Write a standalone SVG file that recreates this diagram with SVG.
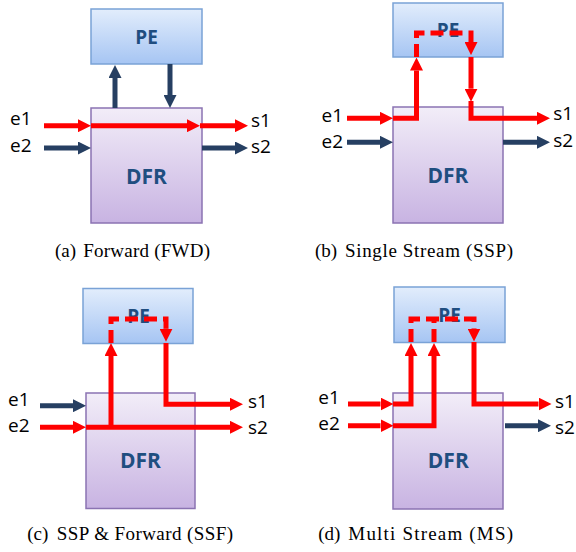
<svg xmlns="http://www.w3.org/2000/svg" width="576" height="552" viewBox="0 0 576 552">
<defs>
<linearGradient id="gPE" x1="0" y1="0" x2="0" y2="1"><stop offset="0" stop-color="#e2edfc"/><stop offset="1" stop-color="#a6c5f3"/></linearGradient>
<linearGradient id="gDFR" x1="0" y1="0" x2="0" y2="1"><stop offset="0" stop-color="#f2edf8"/><stop offset="1" stop-color="#c8b3e2"/></linearGradient>
<marker id="hR" markerUnits="userSpaceOnUse" markerWidth="13" markerHeight="13" viewBox="0 0 13 13" refX="0" refY="6.5" orient="auto"><path d="M0,0 L13,6.5 L0,13 Z" fill="#ff0000"/></marker>
<marker id="hD" markerUnits="userSpaceOnUse" markerWidth="13" markerHeight="13" viewBox="0 0 13 13" refX="0" refY="6.5" orient="auto"><path d="M0,0 L13,6.5 L0,13 Z" fill="#263f62"/></marker>
<style>
.pe{fill:url(#gPE);stroke:#7aa2d6;stroke-width:1.5}
.dfr{fill:url(#gDFR);stroke:#8b73b2;stroke-width:1.5}
.bt{font-family:"Open Sans","Liberation Sans",sans-serif;font-weight:bold;fill:#1f4e80;text-anchor:middle}
.lb{font-family:"Open Sans","Liberation Sans",sans-serif;font-size:19px;fill:#000}
.cap{font-family:"Liberation Serif","Times New Roman",serif;font-size:19px;fill:#000}
.r{fill:none;stroke:#ff0000;stroke-width:5;stroke-linejoin:miter;marker-end:url(#hR)}
.rd{fill:none;stroke:#ff0000;stroke-width:5;stroke-dasharray:13 6;stroke-linejoin:miter}
.d{fill:none;stroke:#263f62;stroke-width:5;marker-end:url(#hD)}
</style>
</defs>

<!-- Panel (a) -->
<g id="a-PE"><rect class="pe" x="91" y="9" width="111" height="55"/><text class="bt" x="146.5" y="44" font-size="19">PE</text></g>
<g id="a-DFR"><rect class="dfr" x="91" y="108" width="111" height="115"/><text class="bt" x="146.5" y="184" font-size="21">DFR</text></g>
<g id="a-labels">
<text class="lb" x="10" y="125">e1</text><text class="lb" x="10" y="152">e2</text>
<text class="lb" x="251" y="126.5">s1</text><text class="lb" x="251" y="153">s2</text>
</g>
<g id="a-connectors">
<path class="r" d="M44,125.7 H78"/>
<path class="r" d="M91,125.7 H187"/>
<path class="r" d="M200,125.7 H235"/>
<path class="d" d="M44,148 H78"/>
<path class="d" d="M202,148 H235"/>
<path class="d" d="M115,108 V78"/>
<path class="d" d="M170,64 V95"/>
</g>

<!-- Panel (b) -->
<g id="b-PE"><rect class="pe" x="393" y="3" width="110" height="54"/><text class="bt" x="448" y="37.3" font-size="19">PE</text></g>
<g id="b-DFR"><rect class="dfr" x="393" y="107" width="110" height="116"/><text class="bt" x="448" y="183" font-size="21">DFR</text></g>
<g id="b-labels">
<text class="lb" x="321.5" y="121.7">e1</text><text class="lb" x="321.5" y="148">e2</text>
<text class="lb" x="553.3" y="120">s1</text><text class="lb" x="553.3" y="146.7">s2</text>
</g>
<g id="b-connectors">
<path class="r" d="M347,118.3 H380"/>
<path class="r" d="M393,118.3 H416.5 V70.5"/>
<path class="rd" d="M416.5,57 V33 H471 V42"/>
<path class="r" d="M471,42 V42.1"/>
<path class="r" d="M471,57 V88.7"/>
<path class="r" d="M471,101 V118.3 H537"/>
<path class="d" d="M347,142.3 H380"/>
<path class="d" d="M503,142.3 H537"/>
</g>

<!-- Panel (c) -->
<g id="c-PE"><rect class="pe" x="83" y="288.5" width="110" height="55"/><text class="bt" x="138.5" y="323.3" font-size="19">PE</text></g>
<g id="c-DFR"><rect class="dfr" x="86" y="393" width="109" height="115.5"/><text class="bt" x="140.5" y="468.3" font-size="21">DFR</text></g>
<g id="c-labels">
<text class="lb" x="8" y="406">e1</text><text class="lb" x="8" y="432">e2</text>
<text class="lb" x="248" y="408.3">s1</text><text class="lb" x="248" y="434">s2</text>
</g>
<g id="c-connectors">
<path class="d" d="M40,405.7 H73"/>
<path class="r" d="M40,427.3 H73"/>
<path class="r" d="M86,427.3 H230"/>
<path class="r" d="M111,427.3 V356"/>
<path class="rd" d="M111,343 V319 H166 V328.7"/>
<path class="r" d="M166,328.5 V328.7"/>
<path class="r" d="M166,343 V404.3 H230"/>
</g>

<!-- Panel (d) -->
<g id="d-PE"><rect class="pe" x="394" y="287" width="111" height="55.5"/><text class="bt" x="449.5" y="322.3" font-size="19">PE</text></g>
<g id="d-DFR"><rect class="dfr" x="393" y="393" width="110" height="116"/><text class="bt" x="448.3" y="468.3" font-size="21">DFR</text></g>
<g id="d-labels">
<text class="lb" x="318.3" y="404">e1</text><text class="lb" x="318.3" y="430">e2</text>
<text class="lb" x="555" y="408.3">s1</text><text class="lb" x="555" y="434">s2</text>
</g>
<g id="d-connectors">
<path class="r" d="M348,404 H380.5"/>
<path class="r" d="M393,404 H411 V356"/>
<path class="r" d="M348,425.7 H380.5"/>
<path class="r" d="M393,425.7 H434 V356"/>
<path class="rd" d="M411,342 V319 H474 V328.5"/>
<path class="rd" d="M434,342 V319"/>
<path class="r" d="M474,328.4 V328.5"/>
<path class="r" d="M474,342 V404 H538.5"/>
<path class="d" d="M505,425.7 H538"/>
</g>

<!-- Captions -->
<g id="captions">
<text class="cap" y="257"><tspan x="55">(a)</tspan><tspan x="83.3" textLength="126.7" lengthAdjust="spacing">Forward (FWD)</tspan></text>
<text class="cap" y="257"><tspan x="315">(b)</tspan><tspan x="345" textLength="168" lengthAdjust="spacing">Single Stream (SSP)</tspan></text>
<text class="cap" y="539.5"><tspan x="27.3">(c)</tspan><tspan x="56.7" textLength="176.3" lengthAdjust="spacing">SSP &amp; Forward (SSF)</tspan></text>
<text class="cap" y="539.5"><tspan x="318.3">(d)</tspan><tspan x="348.3" textLength="164.7" lengthAdjust="spacing">Multi Stream (MS)</tspan></text>
</g>
</svg>
